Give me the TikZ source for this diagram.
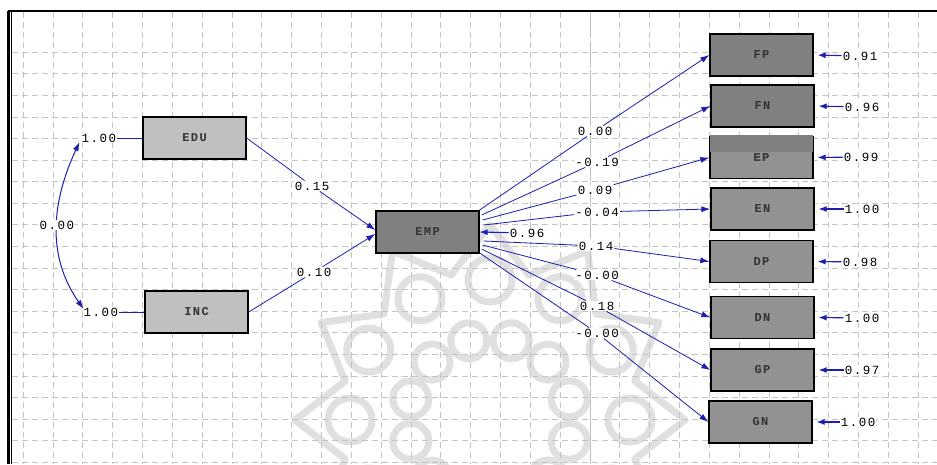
\documentclass[tikz,border=0pt]{standalone}
\usepackage{fontspec}
\newfontfamily\lisfont[LetterSpace=12]{Liberation Mono}
\usetikzlibrary{arrows.meta}
\definecolor{pathblue}{RGB}{30,30,175}
\definecolor{gridgray}{RGB}{196,196,196}
\definecolor{markgray}{RGB}{224,224,224}
\definecolor{lightbox}{RGB}{192,192,192}
\definecolor{darkbox}{RGB}{128,128,128}
\definecolor{midbox}{RGB}{146,146,146}
\newcommand{\gridx}{29.83}
\newcommand{\gridy}{21.58}
\tikzset{varbox/.style={rectangle, draw=black, line width=1.3pt, fill=lightbox, minimum width=103pt, minimum height=42pt, inner sep=0pt, text=black!80, font=\fontsize{12}{12}\lisfont\bfseries\selectfont}}
\tikzset{val/.style={fill=white, inner sep=1pt, text=black, font=\fontsize{12.5}{12.5}\lisfont\selectfont}}
\tikzset{regpath/.style={draw=pathblue, line width=0.8pt, -{Latex[length=9pt,width=6pt]}}}
\tikzset{errpath/.style={draw=pathblue, line width=1.1pt, -{Latex[length=8pt,width=6pt]}, shorten >=4pt}}

\begin{document}
\begin{tikzpicture}[x=1pt, y=-1pt]
\useasboundingbox (0,0) rectangle (937,464);
\fill[white] (0,0) rectangle (937,464);

% watermark
\begin{scope}[markgray, line width=7pt, line join=round]
\foreach \a in {0,30,...,330}
  \draw (490,420) ++(\a:140) circle (22);
\foreach \a in {15,45,...,345}
  \draw (490,420) ++(\a:82) circle (18);
\draw (490,420) +(0:195) \foreach \a in {15,30,...,360} { -- +(\a:{mod(\a,30)==0 ? 195 : 150}) } -- cycle;
\end{scope}

% grid
\foreach \k in {0,...,30}
  \draw[gridgray, dash pattern=on 6pt off 4pt] (23+\k*\gridx,12) -- (23+\k*\gridx,464);
\foreach \k in {0,...,19}
  \draw[gridgray, dash pattern=on 6pt off 4pt] (12,52+\k*\gridy) -- (937,52+\k*\gridy);
\draw[black!25, line width=0.9pt, dash pattern=on 24pt off 5pt] (590,12) -- (590,464);

% frame
\draw[line width=2.6pt] (7.5,11) -- (937,11);
\draw[line width=2.6pt] (8.7,11) -- (8.7,464);
\draw[line width=1.2pt] (11.8,11) -- (11.8,464);

% variables
\node[varbox] (EDU) at (194.5,138) {EDU};
\node[varbox] (INC) at (196.5,312) {INC};
\node[varbox, fill=darkbox] (EMP) at (427.5,232) {EMP};

\node[varbox, fill=darkbox] (FP) at (761.5,55) {FP};
\node[varbox, fill=darkbox] (FN) at (762.5,106) {FN};
\node[varbox, fill=midbox] (EP) at (761.5,157.5) {EP};
\fill[darkbox] (EP.north west) ++(0.8,-0.8) rectangle ([xshift=-0.8pt]EP.east |- 0,152);
\node[text=black!75, font=\fontsize{12}{12}\lisfont\bfseries\selectfont] at (EP) {EP};
\node[varbox, fill=midbox] (EN) at (762.5,209) {EN};
\node[varbox, fill=midbox] (DP) at (761.5,261.5) {DP};
\node[varbox, fill=midbox] (DN) at (762.5,317.5) {DN};
\node[varbox, fill=midbox] (GP) at (762.5,370) {GP};
\node[varbox, fill=midbox] (GN) at (760.5,422) {GN};

% variances of EDU and INC
\node[val] (vEDU) at (99,138) {1.00};
\node[val] (vINC) at (101,312) {1.00};
\draw[pathblue, line width=1pt] (vEDU) -- (EDU);
\draw[pathblue, line width=1pt] (vINC) -- (INC);
\draw[pathblue, line width=1pt, {Latex[length=9pt,width=6pt]}-{Latex[length=9pt,width=6pt]}] ([xshift=-1pt,yshift=-4pt]vEDU.west) to[out=-115, in=125] ([xshift=1pt,yshift=3pt]vINC.west);
\node[val] (cov) at (57,225) {0.00};

% structural paths
\node[val] (gEDU) at (312,186) {0.15};
\node[val] (gINC) at (314,272) {0.10};
\draw[regpath] (EDU.east) -- (gEDU) -- ([yshift=2pt]EMP.west);
\draw[regpath] (INC.east) -- (gINC) -- ([yshift=-2pt]EMP.west);

\node[val] (eEMP) at (527,233) {0.96};
\draw[errpath, shorten >=0pt] (eEMP) -- (EMP.east);

% loadings
\node[val] (lFP) at (595,131) {0.00};
\node[val] (lFN) at (597,162) {-0.19};
\node[val] (lEP) at (595,190) {0.09};
\node[val] (lEN) at (597,212) {-0.04};
\node[val] (lDP) at (596,246) {0.14};
\node[val] (lDN) at (597,275) {-0.00};
\node[val] (lGP) at (597,306) {0.18};
\node[val] (lGN) at (597,333) {-0.00};

\draw[regpath] ([yshift=22pt]EMP.east) -- (lFP) -- (FP.west);
\draw[regpath] ([xshift=2pt,yshift=17pt]EMP.east) -- (lFN) -- (FN.west);
\draw[regpath] ([xshift=3pt,yshift=12pt]EMP.east) -- (lEP) -- (EP.west);
\draw[regpath] ([xshift=4pt,yshift=7pt]EMP.east) -- (lEN) -- (EN.west);
\draw[regpath] ([xshift=4pt,yshift=-9pt]EMP.east) -- (lDP) -- (DP.west);
\draw[regpath] ([xshift=3pt,yshift=-13pt]EMP.east) -- (lDN) -- (DN.west);
\draw[regpath] ([xshift=2pt,yshift=-17pt]EMP.east) -- (lGP) -- (GP.west);
\draw[regpath] ([yshift=-21pt]EMP.east) -- (lGN) -- (GN.west);

% error variances
\node[val] (eFP) at (860,56) {0.91};
\node[val] (eFN) at (862,107) {0.96};
\node[val] (eEP) at (861,157) {0.99};
\node[val] (eEN) at (862,209) {1.00};
\node[val] (eDP) at (860,262) {0.98};
\node[val] (eDN) at (862,318) {1.00};
\node[val] (eGP) at (862,370) {0.97};
\node[val] (eGN) at (858,422) {1.00};
\foreach \v in {FP,FN,EP,EN,DP,DN,GP,GN}
  \draw[errpath] (e\v) -- (\v.east);

\end{tikzpicture}
\end{document}
